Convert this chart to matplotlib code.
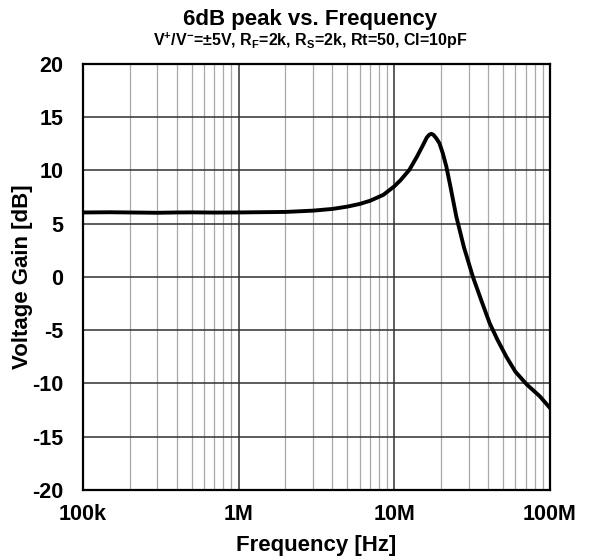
import matplotlib
matplotlib.use('Agg')
import matplotlib.pyplot as plt
import matplotlib.ticker as ticker

plt.rcParams['font.family'] = ['Liberation Sans', 'DejaVu Sans']
plt.rcParams['font.weight'] = 'bold'
plt.rcParams['axes.unicode_minus'] = False
plt.rcParams['mathtext.fontset'] = 'custom'
plt.rcParams['mathtext.rm'] = 'Liberation Sans:bold'
plt.rcParams['mathtext.bf'] = 'Liberation Sans:bold'
plt.rcParams['mathtext.default'] = 'bf'

# frequency [Hz] and gain [dB]
freq = [1e5, 1.5e5, 2e5, 3e5, 4e5, 5e5, 7e5, 1e6, 1.5e6, 2e6, 3e6, 4e6,
        5e6, 6e6, 7e6, 8.5e6, 1e7, 1.1e7, 1.25e7, 1.4e7, 1.52e7, 1.62e7,
        1.68e7, 1.73e7, 1.78e7, 1.86e7, 1.95e7, 2.05e7, 2.16e7, 2.3e7,
        2.5e7, 2.8e7, 3.2e7, 3.6e7, 4.1e7, 4.6e7, 5.25e7, 6e7, 7.1e7,
        8.6e7, 1e8]
gain = [6.05, 6.07, 6.05, 6.02, 6.05, 6.06, 6.04, 6.05, 6.08, 6.10, 6.22, 6.38,
        6.60, 6.85, 7.15, 7.70, 8.50, 9.10, 10.05, 11.3, 12.3, 13.1,
        13.35, 13.43, 13.35, 13.02, 12.55, 11.6, 10.36, 8.4,
        5.7, 2.8, 0.0, -2.1, -4.35, -5.9, -7.5, -8.9, -10.1,
        -11.2, -12.3]

x_ticks = [1e5, 1e6, 1e7, 1e8]
x_labels = ['100k', '1M', '10M', '100M']
y_ticks = [-20, -15, -10, -5, 0, 5, 10, 15, 20]

fig = plt.figure(figsize=(5.92, 5.6), dpi=100)
ax = fig.add_axes([0.140, 0.125, 0.789, 0.761])

ax.set_xscale('log')
ax.set_xlim(1e5, 1e8)
ax.set_ylim(-20, 20)
ax.set_xticks(x_ticks)
ax.set_xticklabels(x_labels)
ax.xaxis.set_minor_locator(ticker.LogLocator(base=10, subs=range(2, 10)))
ax.xaxis.set_minor_formatter(ticker.NullFormatter())
ax.set_yticks(y_ticks)

ax.grid(which='minor', axis='x', color='#a8a8a8', linewidth=0.9)
ax.grid(which='major', axis='x', color='#303030', linewidth=1.1)
ax.grid(which='major', axis='y', color='#303030', linewidth=1.1)
ax.tick_params(which='both', length=0, labelsize=15.5)
ax.tick_params(axis='x', pad=10)
ax.tick_params(axis='y', pad=14)

for s in ax.spines.values():
    s.set_linewidth(1.6)
    s.set_color('black')

ax.plot(freq, gain, color='black', linewidth=2.8, zorder=3)

ax.set_xlabel('Frequency [Hz]', fontsize=16, fontweight='bold', va='center')
ax.set_ylabel('Voltage Gain [dB]', fontsize=16, fontweight='bold', va='center')
ax.xaxis.set_label_coords(0.5, -0.131)
ax.yaxis.set_label_coords(-0.13, 0.5)

fig.text(0.524, 0.966, '6dB peak vs. Frequency', ha='center', va='center',
         fontsize=16, fontweight='bold')
fig.text(0.524, 0.927,
         r'V$^{+}$/V$^{-}$=±5V, R$_{F}$=2k, R$_{S}$=2k, Rt=50, Cl=10pF',
         ha='center', va='center', fontsize=11.5, fontweight='bold')

fig.savefig('out.png', dpi=100)
